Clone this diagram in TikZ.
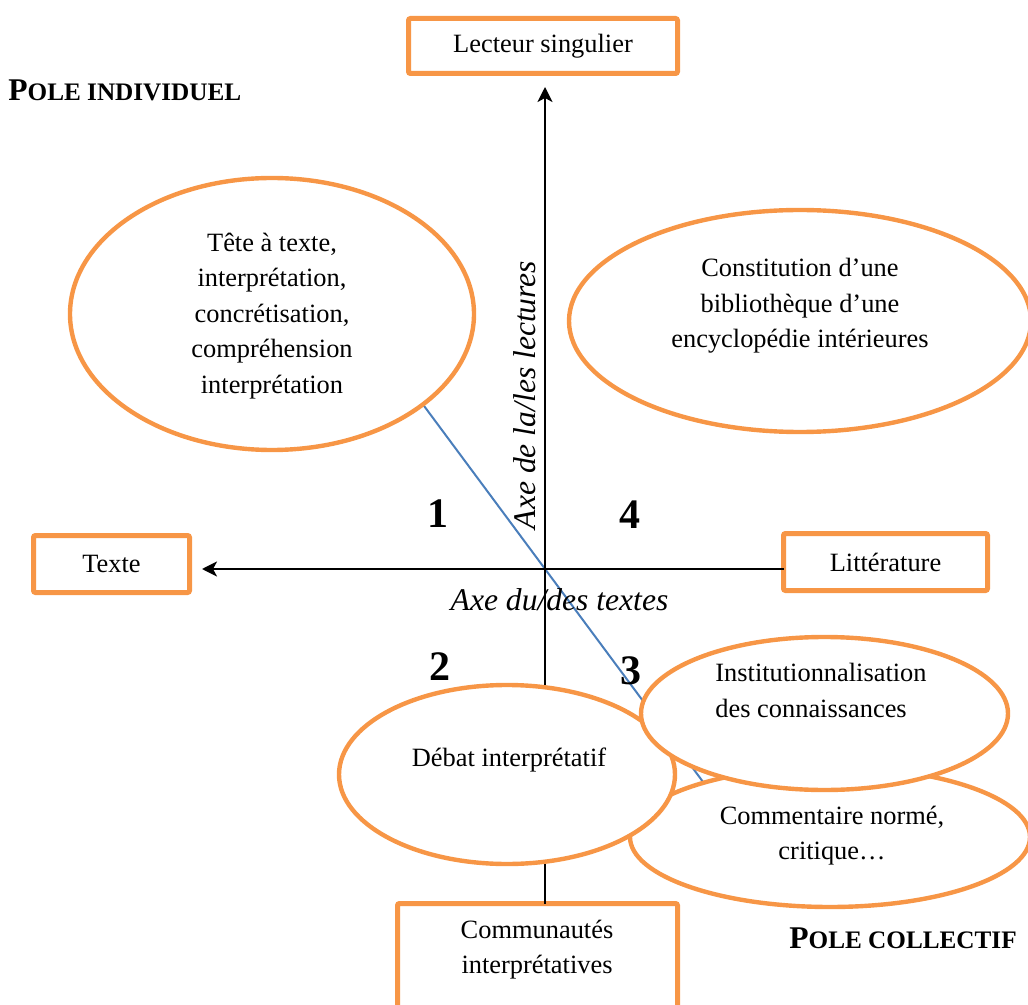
\documentclass[tikz,border=0pt]{standalone}
\usepackage{fontspec}
\setmainfont{Liberation Serif}
\usetikzlibrary{shapes.geometric,arrows.meta}
\definecolor{orng}{HTML}{F79646}
\definecolor{bluel}{HTML}{4A7EBB}
\begin{document}
\begin{tikzpicture}[x=0.5pt,y=-0.5pt,
  txt/.style={font=\fontsize{13.2}{17.75}\selectfont, align=center, inner sep=0pt},
  boxn/.style={draw=orng, line width=2.5pt, rounded corners=1pt, fill=white, inner sep=0pt, outer sep=0pt},
  ell/.style={ellipse, draw=orng, line width=2.2pt, fill=white, inner sep=0pt, outer sep=0pt},
  axisline/.style={line width=1.2pt, draw=black},
  tip/.style={-{Stealth[length=7.5pt,width=7.5pt,inset=2pt]}},
  num/.style={font=\fontsize{21}{21}\bfseries\selectfont, inner sep=0pt},
  axlab/.style={font=\fontsize{15.8}{18}\itshape\selectfont, inner sep=0pt},
  pole/.style={anchor=base west, inner sep=0pt},
]
\useasboundingbox (0,0) rectangle (1028,1005);

% boxes
\node[boxn, txt, minimum width=134.5pt, minimum height=27.5pt] (lect) at (543,46) {Lecteur singulier};
\node[boxn, txt, minimum width=78pt, minimum height=28.5pt] (texte) at (111.5,564) {Texte};
\node[boxn, txt, minimum width=102pt, minimum height=28.5pt] (litt) at (885.5,562) {Littérature};
\node[boxn, minimum width=140pt, minimum height=100pt, anchor=north] (comm) at (537.5,903.5) {};

% axes and diagonal
\coordinate (o) at (545,569);
\coordinate (b1) at (410,387);
\coordinate (b2) at (712,794);
\draw[bluel, line width=1pt] (b1) -- (b2);
\draw[axisline, tip, shorten >=6.75pt] (comm.north -| o) -- (lect.south -| o);
\draw[axisline, tip, shorten >=6.25pt] (litt.west |- o) -- (texte.east |- o);

% ellipses
\node[ell, minimum width=202pt, minimum height=136pt] (e1) at (272,314) {};
\node[ell, minimum width=231pt, minimum height=111pt] (e2) at (800,321) {};
\node[ell, minimum width=200pt, minimum height=70pt] (ecom) at (830,837) {};
\node[ell, minimum width=168pt, minimum height=89.5pt] (edeb) at (507,774.5) {};
\node[ell, minimum width=183.5pt, minimum height=76.5pt] (einst) at (824.5,713.5) {};

% texts
\node[txt] (t1) at (272,316) {Tête à texte,\\interprétation,\\concrétisation,\\compréhension\\interprétation};
\node[txt] (t2) at (800,306) {Constitution d’une\\bibliothèque d’une\\encyclopédie intérieures};
\node[txt] (tdeb) at (509,760) {Débat interprétatif};
\node[txt, align=left, anchor=west] (tinst) at (715,690.5) {Institutionnalisation\\des connaissances};
\node[txt] (tcom) at (832,835.5) {Commentaire normé,\\critique…};
\node[txt] (tcomm) at (537,949.5) {Communautés\\interprétatives};

\node[axlab] (axt) at (559.5,600) {Axe du/des textes};
\node[axlab, rotate=90] (axl) at (525,395) {Axe de la/les lectures};

\node[num] (n1) at (438,514) {1};
\node[num] (n4) at (630,515) {4};
\node[num] (n2) at (440,667) {2};
\node[num] (n3) at (631,671) {3};

\node[pole] (pind) at (8,101) {\fontsize{15.8}{18}\bfseries\selectfont P\fontsize{12.6}{18}\selectfont OLE INDIVIDUEL};
\node[pole] (pcol) at (789,948) {\fontsize{15.8}{18}\bfseries\selectfont P\fontsize{12.6}{18}\selectfont OLE COLLECTIF};
\end{tikzpicture}
\end{document}
